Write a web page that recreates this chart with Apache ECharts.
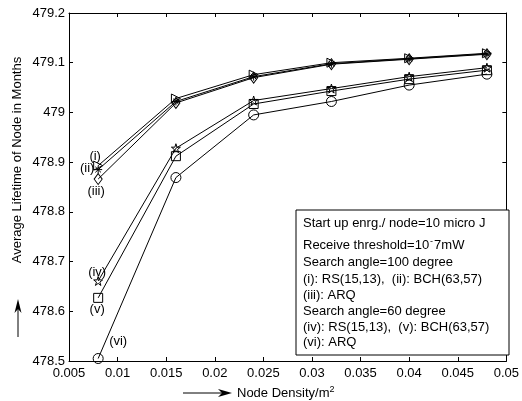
<!DOCTYPE html>
<html>
<head>
<meta charset="utf-8">
<script src="https://cdn.jsdelivr.net/npm/echarts@6/dist/echarts.min.js"></script>
<style>html,body{margin:0;padding:0;background:#fff}#c{width:522px;height:401px}</style>
</head>
<body>
<div id="c"></div>
<script>
const nodeDensity = [0.008, 0.016, 0.024, 0.032, 0.040, 0.048];
const rs100  = [478.893, 479.028, 479.076, 479.100, 479.109, 479.119];
const bch100 = [478.885, 479.022, 479.072, 479.098, 479.108, 479.118];
const arq100 = [478.866, 479.019, 479.070, 479.097, 479.107, 479.117];
const rs60   = [478.661, 478.928, 479.024, 479.048, 479.072, 479.090];
const bch60  = [478.627, 478.912, 479.017, 479.043, 479.067, 479.085];
const arq60  = [478.505, 478.869, 478.995, 479.022, 479.055, 479.077];
const seriesTags = ['(i)', '(ii)', '(iii)', '(iv)', '(v)', '(vi)'];
const noteLines = [
  'Start up enrg./ node=10 micro J',
  '{a|Receive threshold=10}{s|-}{a|7mW}',
  'Search angle=100 degree',
  '(i): RS(15,13),  (ii): BCH(63,57)',
  '(iii): ARQ',
  'Search angle=60 degree',
  '(iv): RS(15,13),  (v): BCH(63,57)',
  '(vi): ARQ'
];

const FONT = 'Liberation Sans, Arial, sans-serif';
const chart = echarts.init(document.getElementById('c'));

const star = 'path://M50,0 L61,35 L98,35 L68,57 L79,91 L50,70 L21,91 L32,57 L2,35 L39,35 Z';
const aster = 'path://M50,0 L50,100 M0,50 L100,50 M15,15 L85,85 M85,15 L15,85';
const specs = [
  {d: rs100, sym: 'triangle', size: 9, rot: -90, off: [-3, -9]},
  {d: bch100, sym: aster, size: 8, rot: 0, off: [-11, -1]},
  {d: arq100, sym: 'diamond', size: [8, 11], rot: 0, off: [-2, 12]},
  {d: rs60, sym: star, size: 9, rot: 0, off: [-1, -9]},
  {d: bch60, sym: 'rect', size: 9, rot: 0, off: [-1, 12]},
  {d: arq60, sym: 'circle', size: 10, rot: 0, off: [20, -17]}
];

const series = specs.map((s, k) => ({
  type: 'line',
  data: s.d.map((v, i) => {
    const item = {value: [nodeDensity[i], v]};
    if (i === 0) {
      item.label = {show: true, position: 'inside', offset: s.off, formatter: seriesTags[k],
        color: '#000', fontSize: 13, fontFamily: FONT};
    }
    return item;
  }),
  symbol: s.sym,
  symbolSize: s.size,
  symbolRotate: s.rot,
  showAllSymbol: true,
  lineStyle: {color: '#000', width: 1},
  itemStyle: {color: 'rgba(0,0,0,0)', borderColor: '#000', borderWidth: 1},
  emphasis: {disabled: true},
  animation: false,
  z: 3
}));

const axisCommon = {
  axisLine: {show: true, lineStyle: {color: '#000', width: 1}},
  axisTick: {show: true, inside: true, length: 4, lineStyle: {color: '#000'}},
  splitLine: {show: false}
};

const graphics = [];
graphics.push({type: 'rect', shape: {x: 296, y: 210, width: 213, height: 145},
  style: {fill: '#fff', stroke: '#000', lineWidth: 1}, z: 10});
const lineY = [223, 245, 262, 279, 295, 311, 327, 342];
noteLines.forEach((t, i) => {
  graphics.push({type: 'text', x: 303, y: lineY[i], z: 11,
    style: {text: t, fill: '#000', font: '13px ' + FONT, verticalAlign: 'middle', align: 'left',
      rich: {a: {fontSize: 13, fontFamily: FONT, fill: '#000'},
             s: {fontSize: 9, fontFamily: FONT, fill: '#000', verticalAlign: 'top', padding: [0, 1, 6, 1]}}}});
});
graphics.push({type: 'text', x: 17, y: 160, rotation: Math.PI / 2,
  style: {text: 'Average Lifetime of Node in Months', fill: '#000', font: '13px ' + FONT, align: 'center', verticalAlign: 'middle'}});
graphics.push({type: 'line', shape: {x1: 18, y1: 337, x2: 18, y2: 306}, style: {stroke: '#000', lineWidth: 1}});
graphics.push({type: 'polygon', shape: {points: [[18, 299], [14.5, 313], [18, 309], [21.5, 313]]}, style: {fill: '#000'}});
graphics.push({type: 'line', shape: {x1: 183, y1: 393, x2: 225, y2: 393}, style: {stroke: '#000', lineWidth: 1}});
graphics.push({type: 'polygon', shape: {points: [[232, 393], [218, 389], [222, 393], [218, 397]]}, style: {fill: '#000'}});
graphics.push({type: 'text', x: 237, y: 393,
  style: {text: '{a|Node Density/m}{s|2}', verticalAlign: 'middle', align: 'left',
    rich: {a: {fontSize: 13, fontFamily: FONT, fill: '#000'},
           s: {fontSize: 9, fontFamily: FONT, fill: '#000', verticalAlign: 'top', padding: [0, 0, 6, 0]}}}});

chart.setOption({
  animation: false,
  grid: {left: 69, right: 13, top: 13, bottom: 40, containLabel: false},
  xAxis: [
    Object.assign({type: 'value', min: 0.005, max: 0.05, interval: 0.005, position: 'bottom',
      axisLabel: {color: '#000', fontSize: 13, fontFamily: FONT, margin: 6,
        formatter: v => String(+v.toFixed(3))}}, axisCommon),
    Object.assign({type: 'value', min: 0.005, max: 0.05, interval: 0.005, position: 'top',
      axisLabel: {show: false}}, axisCommon)
  ],
  yAxis: [
    Object.assign({type: 'value', min: 478.5, max: 479.2, interval: 0.1, position: 'left',
      axisLabel: {color: '#000', fontSize: 13, fontFamily: FONT, margin: 4,
        formatter: v => String(+v.toFixed(1))}}, axisCommon),
    Object.assign({type: 'value', min: 478.5, max: 479.2, interval: 0.1, position: 'right',
      axisLabel: {show: false}}, axisCommon)
  ],
  series: series,
  graphic: graphics
});
</script>
</body>
</html>
